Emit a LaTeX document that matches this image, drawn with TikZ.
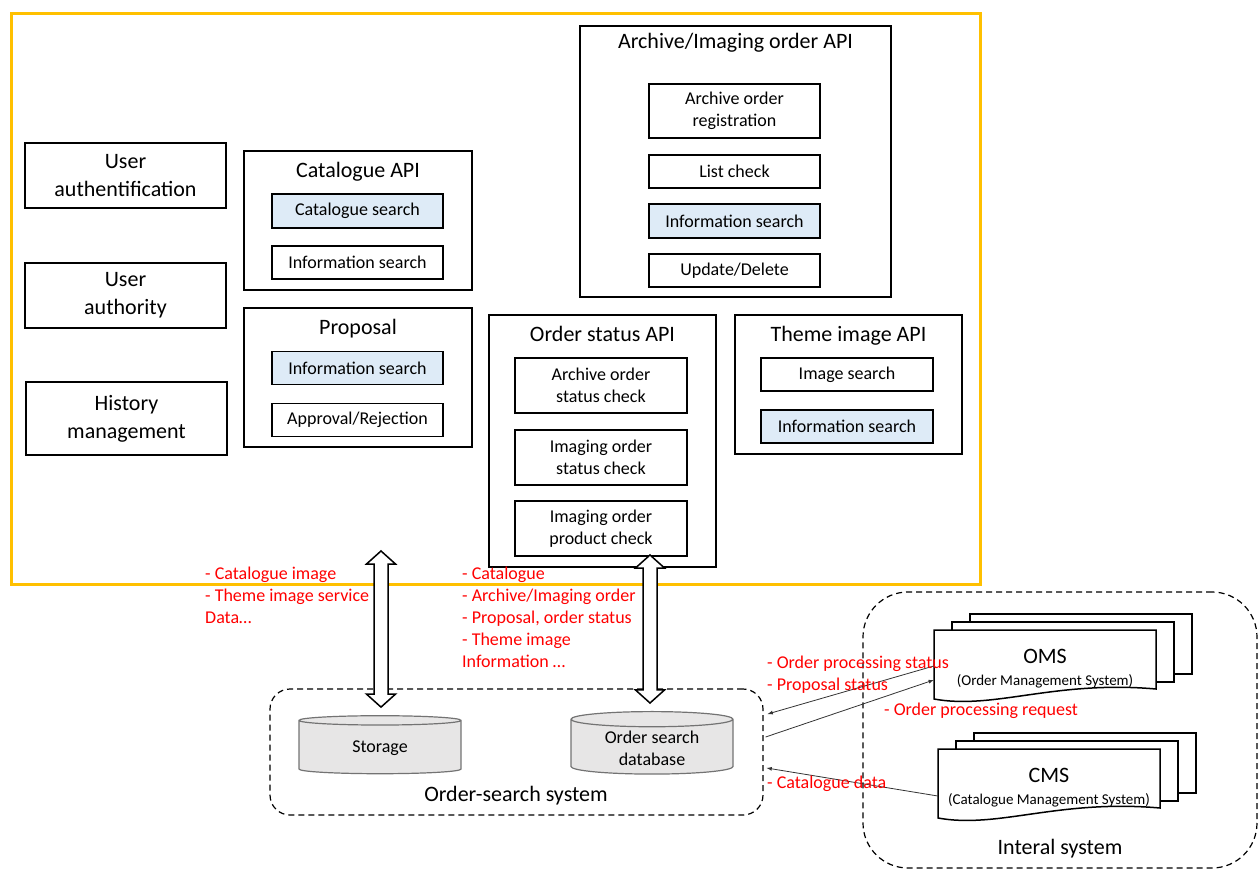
\documentclass[tikz,border=0pt]{standalone}
\usepackage{fontspec}
\setmainfont{Carlito}
\usetikzlibrary{shapes.geometric,calc}
\definecolor{frameyellow}{HTML}{FFC000}
\definecolor{searchblue}{HTML}{DEEBF7}
\definecolor{dbgray}{HTML}{E7E6E6}
% hollow double arrow from #1 (top tip) to #2 (bottom tip)
\newcommand{\fatarrow}[2]{%
  \filldraw[fat] (#1) -- ++(14.5,13) -- ++(-7.5,0) -- ($(#2)+(7,-13)$) -- ++(7.5,0)
    -- (#2) -- ++(-14.5,-13) -- ++(7.5,0) -- ($(#1)+(-7,13)$) -- ++(-7.5,0) -- cycle;}
% stack of three documents, #1 = top left corner of the front one
\newcommand{\docstack}[1]{%
  \begin{scope}[shift={#1}]
    \filldraw[doc] (36,-16) rectangle ++(222,60);
    \filldraw[doc] (18,-8) rectangle ++(222,60);
    \filldraw[doc] (0,0) -- (222,0) -- (222,59) .. controls (120,50) and (60,80) .. (0,69) -- cycle;
  \end{scope}}

\begin{document}
\begin{tikzpicture}[x=1pt, y=-1pt,
    box/.style={draw, line width=1.2pt, align=center, font=\fontsize{22}{28}\selectfont},
    group/.style={draw, line width=1.2pt},
    title/.style={font=\fontsize{22}{26}\selectfont},
    item/.style={draw, line width=1.2pt, minimum width=171, align=center, font=\fontsize{18}{22}\selectfont},
    hit/.style={item, fill=searchblue},
    db/.style={cylinder, shape border rotate=90, aspect=0.15, draw=black!55, fill=dbgray, line width=1.2pt,
      minimum width=162, minimum height=58, align=center, font=\fontsize{18}{22}\selectfont},
    system/.style={draw, dash pattern=on 6pt off 4pt, line width=1.2pt},
    sysname/.style={minimum width=222, minimum height=70, align=center, font=\fontsize{15}{22}\selectfont},
    note/.style={text=red, align=left, anchor=north west, inner sep=0pt, font=\fontsize{18}{22}\selectfont},
    link/.style={-latex, draw=black!80, line width=0.8pt},
    fat/.style={draw, fill=white, line width=1.5pt},
    doc/.style={draw, fill=white, line width=1.5pt}]
  \useasboundingbox (0,0) rectangle (1259,869);

  % web service frame
  \node (web) at (495.5,299) [draw=frameyellow, line width=3pt, minimum width=969, minimum height=570] {};

  % user management
  \node (auth) at (125.5,175.5) [box, minimum width=201, minimum height=65] {User\\authentification};
  \node (authz) at (125.5,295.5) [box, minimum width=201, minimum height=65] {User\\authority};
  \node (hist) at (126.5,418.5) [box, minimum width=201, minimum height=73] {History\\management};

  % catalogue API
  \node (catapi) at (358,220.5) [group, minimum width=228, minimum height=139] {};
  \node (catttl) at (358,172) [title] {Catalogue API};
  \node (cs) at (357.5,211) [hit, minimum height=34] {Catalogue search};
  \node (is1) at (357.5,262.5) [item, minimum height=33] {Information search};

  % proposal
  \node (prop) at (358,377.5) [group, minimum width=228, minimum height=139] {};
  \node (propttl) at (358,329) [title] {Proposal};
  \node (is2) at (357.5,368) [hit, minimum height=33] {Information search};
  \node (ar) at (357.5,420) [item, minimum height=33] {Approval/Rejection};

  % archive/imaging order API
  \node (ordapi) at (735.5,161.5) [group, minimum width=311, minimum height=271] {};
  \node (ordttl) at (735.5,43) [title] {Archive/Imaging order API};
  \node (reg) at (734.5,111) [item, minimum height=54] {Archive order\\registration};
  \node (lc) at (734.5,171.5) [item, minimum height=33] {List check};
  \node (is3) at (734.5,221) [hit, minimum height=34] {Information search};
  \node (ud) at (734.5,270.5) [item, minimum height=33] {Update/Delete};

  % order status API
  \node (stapi) at (602.5,441) [group, minimum width=227, minimum height=252] {};
  \node (stttl) at (602.5,334) [title] {Order status API};
  \node (aos) at (601,385.5) [item, minimum width=172, minimum height=55] {Archive order\\status check};
  \node (ios) at (601,457.5) [item, minimum width=172, minimum height=55] {Imaging order\\status check};
  \node (iop) at (601,528.5) [item, minimum width=172, minimum height=55] {Imaging order\\product check};

  % theme image API
  \node (thapi) at (848.5,384.5) [group, minimum width=227, minimum height=139] {};
  \node (thttl) at (848.5,336) [title] {Theme image API};
  \node (ims) at (847,374.5) [item, minimum width=172, minimum height=33] {Image search};
  \node (is4) at (847,426.5) [hit, minimum width=172, minimum height=33] {Information search};

  % order-search system
  \node (oss) at (516.5,752) [system, rounded corners=20, minimum width=493, minimum height=126] {};
  \node (st) at (380,748) [db] {Storage};
  \node (osdb) at (652,748) [db] {Order search\\database};
  \node (ossttl) at (516,796) [title] {Order-search system};

  % internal system
  \node (intl) at (1060,730) [system, rounded corners=45, minimum width=394, minimum height=276] {};
  \node (intlttl) at (1060,849) [title] {Interal system};
  \docstack{(934,630)}
  \node (oms) at (1045,669) [sysname] {{\fontsize{22}{26}\selectfont OMS}\\(Order Management System)};
  \docstack{(938,749)}
  \node (cms) at (1049,788) [sysname] {{\fontsize{22}{26}\selectfont CMS}\\(Catalogue Management System)};

  % data exchange
  \coordinate (upA) at (381,551);
  \coordinate (upB) at (650,555);
  \coordinate (downA) at ($(st.north)+(1,-8)$);
  \coordinate (downB) at ($(osdb.north)+(-2,-8)$);
  \fatarrow{upA}{downA}
  \fatarrow{upB}{downB}

  \draw[link] ([yshift=3]oms.west) -- ([xshift=4,yshift=38]oss.east);
  \draw[link] ([xshift=2,yshift=15]oss.east) -- ([yshift=-11]oms.west);
  \draw[link] ([yshift=-8]cms.west) -- ([xshift=3,yshift=-16]oss.east);

  % red labels
  \node (dataA) at (205,567) [note] {- Catalogue image\\- Theme image service\\Data\ldots};
  \node (dataB) at (462,567) [note] {- Catalogue\\- Archive/Imaging order\\- Proposal, order status\\- Theme image\\Information \ldots};
  \node (omsout) at (767,656) [note] {- Order processing status\\- Proposal status};
  \node (omsin) at (884,703) [note] {- Order processing request};
  \node (cmsout) at (767,776) [note] {- Catalogue data};
\end{tikzpicture}
\end{document}
